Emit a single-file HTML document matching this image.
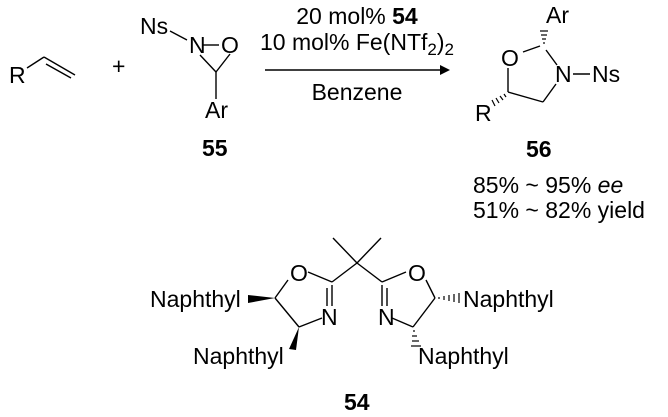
<!DOCTYPE html>
<html><head><meta charset="utf-8"><style>
html,body{margin:0;padding:0;background:#fff;}
svg{display:block;}
text{font-family:"Liberation Sans",Arial,sans-serif;font-size:23px;fill:#000;}
.b{font-weight:bold;}
</style></head><body>
<svg width="668" height="417" viewBox="0 0 668 417" xmlns="http://www.w3.org/2000/svg">
<g stroke="#000" stroke-width="1.4" fill="none">
<line x1="27" y1="68" x2="44" y2="57"/><line x1="44" y1="57" x2="75" y2="75"/><line x1="46" y1="64" x2="71" y2="78"/>
<line x1="170" y1="31" x2="187" y2="40"/>
<line x1="203" y1="45" x2="219" y2="45"/>
<line x1="200" y1="55" x2="216" y2="72"/><line x1="230" y1="54" x2="216" y2="72"/>
<line x1="216" y1="72" x2="216" y2="99"/>
<line x1="265" y1="70" x2="440" y2="70"/>
<line x1="523" y1="52" x2="540" y2="46"/>
<line x1="546" y1="50" x2="557" y2="65"/>
<line x1="573" y1="74" x2="590" y2="74"/>
<line x1="556" y1="84" x2="543" y2="102"/>
<line x1="543" y1="102" x2="508" y2="92"/>
<line x1="508" y1="92" x2="508" y2="68"/>
<line x1="357" y1="263" x2="333" y2="238"/><line x1="357" y1="263" x2="381" y2="238"/>
<line x1="357" y1="263" x2="332" y2="282"/><line x1="357" y1="263" x2="382" y2="282"/>
<line x1="332" y1="282" x2="308" y2="272"/><line x1="288" y1="280" x2="275" y2="298"/>
<line x1="275" y1="298" x2="299" y2="327"/><line x1="299" y1="327" x2="322" y2="318"/>
<line x1="332" y1="285" x2="332" y2="306"/><line x1="327" y1="288" x2="327" y2="306"/>
<line x1="382" y1="282" x2="406" y2="272"/><line x1="426" y1="280" x2="435" y2="298"/>
<line x1="435" y1="298" x2="413" y2="327"/><line x1="413" y1="327" x2="392" y2="318"/>
<line x1="382" y1="285" x2="382" y2="306"/><line x1="387" y1="288" x2="387" y2="306"/>
</g>
<polygon points="440,65 450,70 440,75" fill="#000"/>
<g stroke="#000" stroke-width="1.2">
<line x1="543" y1="43" x2="545" y2="43"/><line x1="542" y1="39" x2="546" y2="39"/><line x1="541" y1="35" x2="547" y2="35"/><line x1="540" y1="31" x2="548" y2="31"/>
<line x1="504" y1="94" x2="506" y2="97"/><line x1="500" y1="96" x2="503" y2="100"/><line x1="496" y1="98" x2="499" y2="103"/><line x1="492" y1="100" x2="495" y2="106"/>
<line x1="439" y1="297" x2="439" y2="299"/><line x1="444" y1="296" x2="444" y2="300"/><line x1="449" y1="295" x2="449" y2="301"/><line x1="454" y1="294" x2="454" y2="302"/><line x1="459" y1="293" x2="459" y2="303"/>
<line x1="413" y1="331" x2="415" y2="331"/><line x1="412" y1="336" x2="417" y2="336"/><line x1="412" y1="341" x2="419" y2="341"/><line x1="411" y1="346" x2="421" y2="346"/>
</g>
<polygon points="275,298 248,295 248,303" fill="#000"/>
<polygon points="299,327 289,349 296,350" fill="#000"/>
<text x="9" y="83">R</text>
<text x="112" y="74">+</text>
<text x="140" y="34">Ns</text>
<text x="189" y="53">N</text>
<text x="221" y="53">O</text>
<text x="205" y="118">Ar</text>
<text x="202" y="156" class="b">55</text>
<text x="357" y="24" text-anchor="middle">20 mol% <tspan class="b">54</tspan></text>
<text x="357" y="50" text-anchor="middle">10 mol% Fe(NTf<tspan font-size="17" dy="5">2</tspan><tspan dy="-5">)</tspan><tspan font-size="17" dy="5">2</tspan></text>
<text x="357" y="100" text-anchor="middle">Benzene</text>
<text x="546" y="23">Ar</text>
<text x="501" y="66">O</text>
<text x="555" y="82">N</text>
<text x="592" y="82">Ns</text>
<text x="475" y="121">R</text>
<text x="526" y="157" class="b">56</text>
<text x="473" y="193">85% ~ 95% <tspan font-style="italic">ee</tspan></text>
<text x="473" y="218">51% ~ 82% yield</text>
<text x="290" y="281">O</text>
<text x="321" y="325">N</text>
<text x="408" y="281">O</text>
<text x="378" y="325">N</text>
<text x="150" y="307">Naphthyl</text>
<text x="193" y="364">Naphthyl</text>
<text x="463" y="307">Naphthyl</text>
<text x="418" y="364">Naphthyl</text>
<text x="344" y="410" class="b">54</text>
</svg>
</body></html>
